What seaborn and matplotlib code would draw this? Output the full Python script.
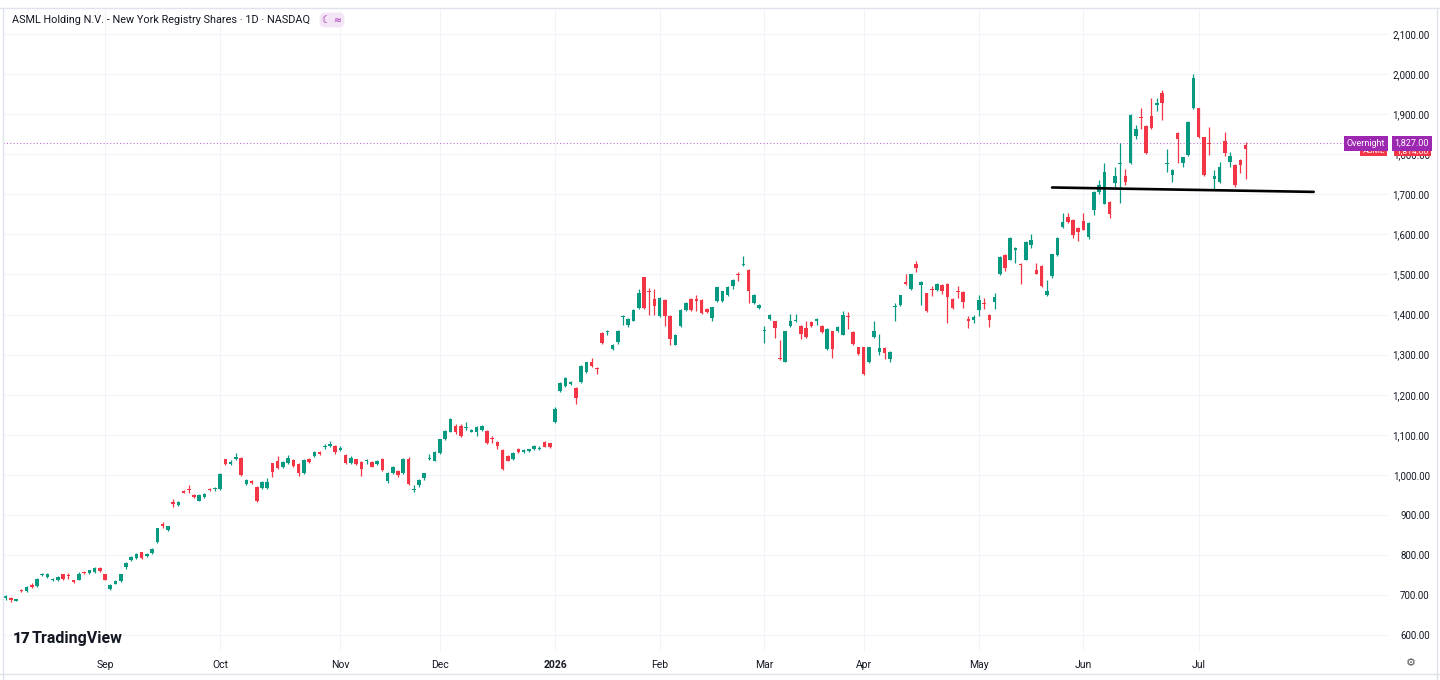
import matplotlib
matplotlib.use("Agg")
import numpy as np
import pandas as pd
import seaborn as sns
import matplotlib.pyplot as plt
from matplotlib.transforms import blended_transform_factory
from matplotlib.lines import Line2D

sns.set_style("white")
plt.rcParams["font.family"] = ["Roboto", "DejaVu Sans"]

## Data (daily candles)
opens = [
    694, 693, 687, 713, 711, 725, 722, 750, 746, 737, 737, 752, 751, 737, 739, 757, 756, 758, 768, 752, 716, 729, 735, 771, 787, 793, 807, 797,
    805, 832, 877, 864, 932, 924, 961, 965, 950, 936, 945, 964, 964, 964, 1039, 1028, 1039, 1043, 977, 985, 971, 967, 967, 1029, 1036,
    1019, 1029, 1037, 1027, 1004, 1039, 1048, 1057, 1070, 1073, 1072, 1062, 1050, 1029, 1039, 1032, 1034, 1032, 1027, 1040, 986, 1004, 1010, 1004, 1040, 963, 975,
    992, 1039, 1036, 1054, 1089, 1108, 1122, 1121, 1118, 1108, 1108, 1111, 1110, 1091, 1082, 1062, 1048, 1040, 1066, 1058, 1060, 1065, 1065, 1083, 1079, 1132, 1210, 1221, 1227, 1218, 1231, 1256, 1281, 1267,
    1354, 1357, 1315, 1332, 1395, 1375, 1385, 1417, 1493, 1458, 1439, 1396, 1437, 1396, 1325, 1371, 1412, 1439, 1439, 1436, 1414, 1392, 1433, 1433, 1448, 1471, 1500, 1523, 1512, 1429, 1417,
    1358, 1389, 1383, 1292, 1283, 1372, 1383, 1372, 1367, 1381, 1383, 1372, 1314, 1358, 1358, 1350, 1397, 1357, 1318, 1318, 1283, 1344, 1306, 1317, 1289, 1418, 1423, 1482, 1464, 1527,
    1473, 1453, 1463, 1461, 1475, 1477, 1439, 1459, 1457, 1389, 1386, 1412, 1428, 1400, 1432, 1502, 1548, 1537, 1560, 1527, 1537, 1573, 1512, 1521, 1450, 1497, 1548, 1619, 1643, 1637, 1617, 1633, 1594,
    1660, 1706, 1677, 1682, 1729, 1776, 1745, 1777, 1845, 1893, 1870, 1895, 1922, 1952, 1776, 1748, 1853, 1779, 1797, 1914, 1914, 1842, 1828, 1737, 1731, 1832, 1781, 1773, 1785, 1824,
]
highs = [
    701, 695, 692, 716, 723, 731, 743, 756, 756, 743, 748, 754, 756, 739, 758, 760, 764, 770, 770, 754, 727, 738, 754, 783, 798, 806, 809, 806,
    817, 869, 882, 874, 940, 935, 963, 974, 952, 952, 954, 967, 970, 1004, 1041, 1038, 1055, 1045, 989, 987, 973, 985, 992, 1031, 1048,
    1034, 1050, 1039, 1029, 1039, 1043, 1060, 1059, 1077, 1085, 1074, 1073, 1052, 1048, 1041, 1034, 1040, 1034, 1038, 1042, 1008, 1023, 1012, 1042, 1046, 975, 989,
    1006, 1052, 1060, 1091, 1112, 1142, 1127, 1127, 1133, 1114, 1121, 1125, 1112, 1098, 1084, 1064, 1050, 1058, 1068, 1064, 1066, 1075, 1072, 1085, 1081, 1170, 1231, 1244, 1234, 1220, 1275, 1283, 1292, 1269,
    1356, 1362, 1327, 1362, 1400, 1391, 1414, 1465, 1495, 1467, 1465, 1444, 1439, 1398, 1352, 1414, 1431, 1441, 1450, 1438, 1416, 1420, 1470, 1460, 1471, 1488, 1506, 1547, 1514, 1452, 1427,
    1371, 1402, 1385, 1337, 1360, 1402, 1402, 1374, 1385, 1385, 1391, 1374, 1367, 1360, 1371, 1410, 1406, 1359, 1320, 1320, 1320, 1385, 1352, 1319, 1309, 1429, 1450, 1500, 1502, 1533,
    1484, 1455, 1471, 1479, 1477, 1479, 1441, 1471, 1459, 1396, 1398, 1450, 1442, 1402, 1454, 1545, 1550, 1594, 1568, 1529, 1584, 1600, 1529, 1523, 1487, 1552, 1594, 1654, 1654, 1639, 1619, 1654, 1631,
    1708, 1735, 1777, 1684, 1769, 1829, 1764, 1901, 1873, 1914, 1872, 1939, 1941, 1960, 1812, 1762, 1855, 1794, 1883, 1999, 1916, 1844, 1868, 1760, 1781, 1856, 1806, 1775, 1787, 1831,
]
lows = [
    689, 684, 685, 708, 709, 719, 720, 748, 744, 735, 735, 739, 740, 731, 737, 754, 754, 756, 759, 737, 714, 727, 733, 766, 785, 791, 790, 795,
    803, 830, 868, 860, 921, 922, 954, 954, 942, 934, 943, 960, 961, 962, 1025, 1026, 1037, 998, 975, 977, 933, 965, 965, 994, 1016,
    1017, 1027, 1020, 998, 1002, 1030, 1046, 1050, 1065, 1071, 1052, 1060, 1027, 1027, 1025, 997, 1027, 1019, 1025, 1010, 980, 1002, 996, 1002, 975, 958, 970,
    987, 1037, 1034, 1052, 1087, 1106, 1103, 1096, 1112, 1106, 1098, 1109, 1077, 1079, 1066, 1012, 1034, 1038, 1055, 1056, 1058, 1063, 1062, 1069, 1067, 1130, 1206, 1219, 1225, 1178, 1229, 1254, 1269, 1253,
    1327, 1350, 1311, 1327, 1375, 1369, 1383, 1415, 1415, 1400, 1400, 1394, 1371, 1325, 1323, 1369, 1410, 1410, 1408, 1402, 1404, 1385, 1431, 1431, 1446, 1465, 1485, 1521, 1429, 1427, 1415,
    1329, 1387, 1342, 1287, 1281, 1370, 1381, 1340, 1342, 1370, 1375, 1354, 1312, 1292, 1356, 1348, 1364, 1325, 1300, 1250, 1279, 1342, 1300, 1289, 1281, 1383, 1421, 1475, 1462, 1506,
    1425, 1406, 1446, 1459, 1452, 1379, 1415, 1442, 1417, 1367, 1379, 1396, 1415, 1369, 1415, 1498, 1508, 1535, 1529, 1477, 1535, 1567, 1500, 1469, 1446, 1492, 1546, 1617, 1629, 1592, 1583, 1610, 1589,
    1648, 1700, 1675, 1640, 1719, 1679, 1722, 1775, 1839, 1864, 1800, 1864, 1908, 1885, 1756, 1731, 1777, 1769, 1795, 1912, 1840, 1745, 1798, 1714, 1729, 1795, 1768, 1718, 1752, 1737,
]
closes = [
    698, 688, 690, 711, 721, 721, 741, 754, 754, 741, 746, 741, 749, 733, 754, 755, 762, 768, 761, 739, 725, 736, 752, 781, 796, 804, 792, 804,
    815, 867, 873, 872, 928, 933, 956, 963, 944, 950, 952, 962, 966, 1002, 1027, 1032, 1044, 1000, 987, 979, 935, 983, 982, 1008, 1018,
    1032, 1042, 1022, 1004, 1037, 1032, 1058, 1052, 1072, 1077, 1057, 1067, 1029, 1042, 1027, 1015, 1036, 1021, 1036, 1012, 1006, 1021, 1000, 1040, 977, 966, 987,
    1004, 1041, 1058, 1089, 1110, 1140, 1108, 1098, 1120, 1112, 1119, 1123, 1079, 1089, 1073, 1014, 1036, 1056, 1057, 1062, 1064, 1072, 1067, 1071, 1069, 1164, 1229, 1242, 1232, 1192, 1273, 1281, 1271, 1264,
    1329, 1359, 1325, 1360, 1397, 1389, 1412, 1454, 1417, 1456, 1421, 1442, 1396, 1339, 1350, 1412, 1429, 1412, 1433, 1404, 1406, 1418, 1468, 1458, 1469, 1486, 1498, 1527, 1458, 1450, 1425,
    1362, 1400, 1367, 1289, 1358, 1383, 1387, 1352, 1344, 1372, 1389, 1356, 1364, 1314, 1369, 1400, 1395, 1327, 1302, 1252, 1318, 1358, 1317, 1304, 1307, 1420, 1448, 1477, 1500, 1517,
    1482, 1408, 1461, 1477, 1460, 1443, 1417, 1457, 1432, 1383, 1394, 1437, 1426, 1386, 1444, 1543, 1517, 1592, 1566, 1523, 1582, 1585, 1502, 1471, 1460, 1550, 1592, 1631, 1631, 1598, 1607, 1612, 1629,
    1706, 1723, 1756, 1650, 1746, 1778, 1731, 1899, 1862, 1891, 1802, 1866, 1928, 1928, 1778, 1760, 1839, 1792, 1881, 1989, 1842, 1747, 1826, 1746, 1767, 1802, 1796, 1724, 1773, 1814,
]

month_pos = [19, 41, 64, 83, 105, 125, 145, 164, 186, 206, 228]
month_labels = ["Sep", "Oct", "Nov", "Dec", "2026", "Feb", "Mar", "Apr", "May", "Jun", "Jul"]
price_ticks = list(range(600, 2200, 100))

support_x = [200, 250]
support_y = [1717, 1706]

overnight_price = 1827.00
last_price = 1814.00

title = "ASML Holding N.V. - New York Registry Shares \u00b7 1D \u00b7 NASDAQ"

GREEN = "#089981"
RED = "#f23645"
PURPLE = "#9c27b0"
TEXT = "#131722"

df = pd.DataFrame({"open": opens, "high": highs, "low": lows, "close": closes})
df["i"] = np.arange(len(df))
up = df["close"] >= df["open"]
colors = np.where(up, GREEN, RED)

## Figure
fig = plt.figure(figsize=(14.4, 6.8), dpi=100)
ax = fig.add_axes([3 / 1440, 28 / 680, 1385 / 1440, 642 / 680])

# wicks and bodies
ax.vlines(df["i"], df["low"], df["high"], colors=colors, lw=0.9, zorder=3)
body_low = np.minimum(df["open"], df["close"])
body_h = np.maximum((df["close"] - df["open"]).abs(), 2.5)
ax.bar(df["i"], body_h, bottom=body_low, width=0.68, color=colors, lw=0, zorder=4)

# support line
sns.lineplot(x=support_x, y=support_y, color="black", lw=1.9, ax=ax, zorder=5)

# overnight dotted price line
ax.axhline(overnight_price, color="#c06fd0", lw=0.8, ls=(0, (1, 2)), zorder=2)

ax.set_xlim(-0.5, 264.2)
ax.set_ylim(558.6, 2159.6)

ax.set_xticks(month_pos)
ax.set_xticklabels(month_labels)
for t in ax.get_xticklabels():
    if t.get_text() == "2026":
        t.set_fontweight("bold")
ax.tick_params(axis="x", length=0, pad=6, labelsize=7.5, labelcolor=TEXT)

ax.yaxis.tick_right()
ax.set_yticks(price_ticks)
ax.set_yticklabels([f"{p:,.2f}" for p in price_ticks])
ax.tick_params(axis="y", length=0, pad=30, labelsize=7, labelcolor=TEXT)
for t in ax.get_yticklabels():
    t.set_ha("right")

ax.grid(True, color="#f2f4f9", lw=0.8, zorder=0)
for s in ax.spines.values():
    s.set_visible(False)

# price labels on the scale (the last-price label sits half hidden behind the overnight one)
trans = blended_transform_factory(ax.transAxes, ax.transData)
ax.text(0.9978, last_price - 6, "ASML", ha="right", va="center", transform=trans,
        fontsize=6, color="white", clip_on=False, zorder=6,
        bbox=dict(boxstyle="square,pad=0.3", fc=RED, ec="none"))
ax.text(1.0296, last_price - 6, f"{last_price:,.2f}", ha="right", va="center", transform=trans,
        fontsize=6, color="white", clip_on=False, zorder=6,
        bbox=dict(boxstyle="square,pad=0.3", fc=RED, ec="none"))
ax.text(0.9978, overnight_price, "Overnight", ha="right", va="center", transform=trans,
        fontsize=6.5, color="white", clip_on=False, zorder=7,
        bbox=dict(boxstyle="square,pad=0.3", fc=PURPLE, ec="none"))
ax.text(1.0296, overnight_price, f"{overnight_price:,.2f}", ha="right", va="center", transform=trans,
        fontsize=6.5, color="white", clip_on=False, zorder=7,
        bbox=dict(boxstyle="square,pad=0.3", fc=PURPLE, ec="none"))

# header and branding
fig.text(12 / 1440, 1 - 20 / 680, title, fontsize=7.8, color=TEXT, va="center")
fig.text(322 / 1440, 1 - 20 / 680, "\u263e \u2248", fontsize=7, color=PURPLE, va="center",
         family=["DejaVu Sans"],
         bbox=dict(boxstyle="round,pad=0.25,rounding_size=0.6", fc="#f3e5f5", ec="none"))
fig.text(13 / 1440, 1 - 639 / 680, "17", fontsize=11, fontweight="black", color=TEXT, va="center")
fig.text(32 / 1440, 1 - 639 / 680, "TradingView", fontsize=11.5, fontweight="bold", color=TEXT, va="center")
fig.text(1411 / 1440, 1 - 663 / 680, "\u2699", fontsize=8, color="#555555", ha="center", va="center",
         family=["DejaVu Sans"])

# frame lines of the screenshot
line_kw = dict(transform=fig.transFigure, color="#e0e3eb", lw=1)
fig.add_artist(Line2D([0, 1], [1 - 8 / 680] * 2, **line_kw))
fig.add_artist(Line2D([3 / 1440] * 2, [0, 1 - 8 / 680], **line_kw))
fig.add_artist(Line2D([1437 / 1440] * 2, [0, 1 - 8 / 680], **line_kw))
fig.add_artist(Line2D([0, 1], [6 / 680] * 2, **line_kw))

fig.savefig("out.png", dpi=100)
